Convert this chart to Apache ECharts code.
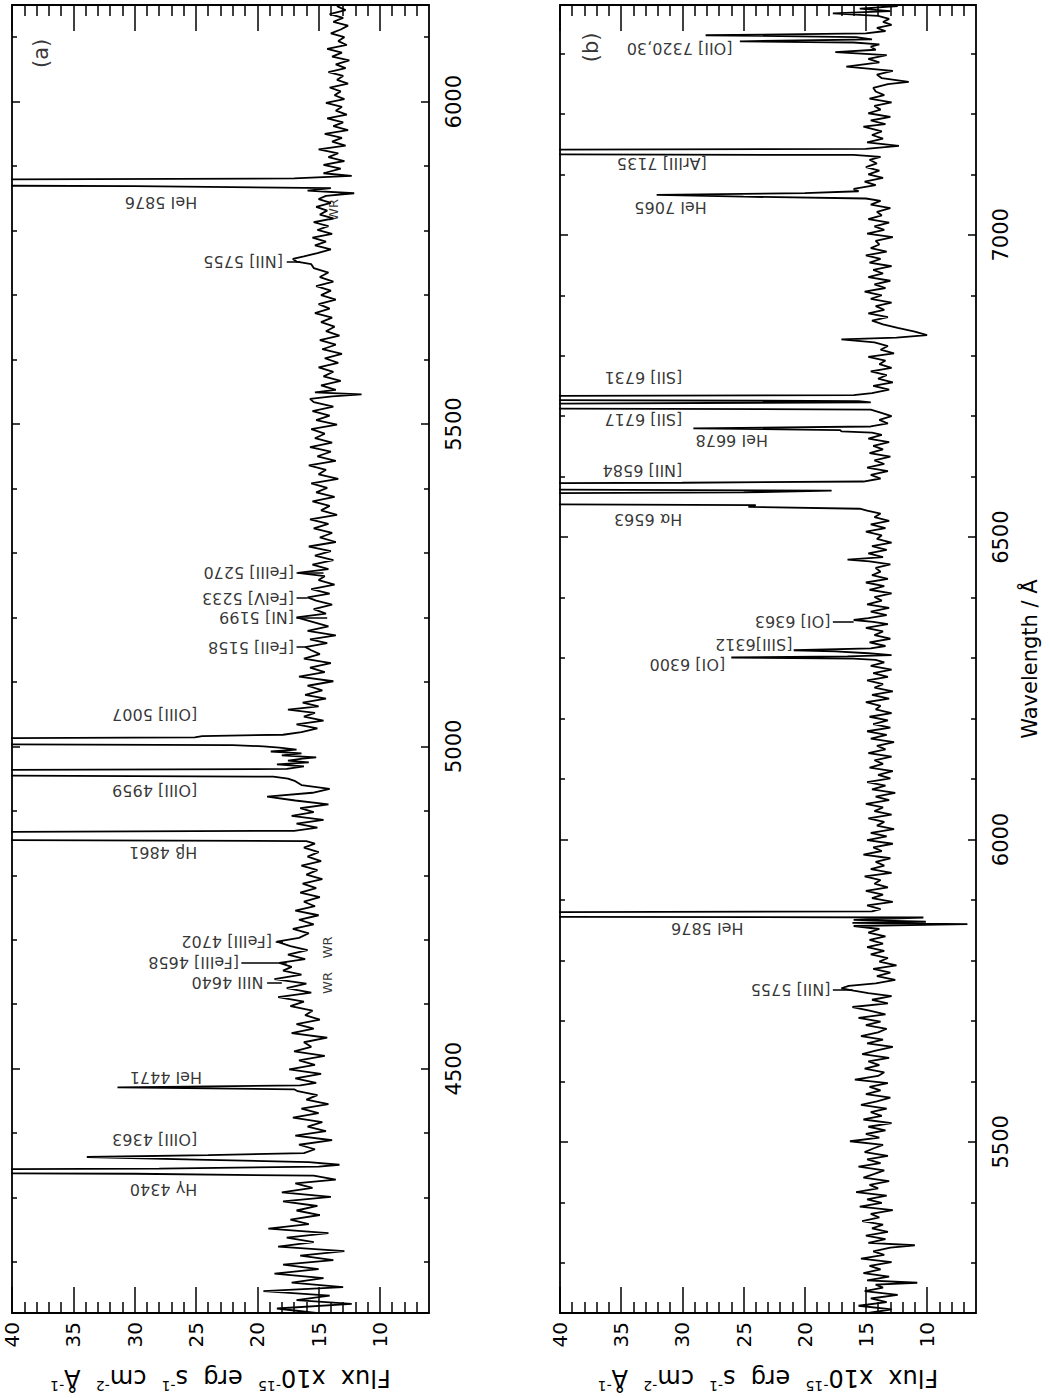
<!DOCTYPE html>
<html><head><meta charset="utf-8">
<script src="https://cdn.jsdelivr.net/npm/echarts@6.0.0/dist/echarts.min.js"></script>
<style>html,body{margin:0;padding:0;background:#fff}#c{width:1050px;height:1398px}</style>
</head><body><div id="c"></div>
<script>
// ---- tick values ----
const fluxMajor = [10, 15, 20, 25, 30, 35, 40];
const fluxMinor = [7, 8, 9, 11, 12, 13, 14, 16, 17, 18, 19, 21, 22, 23, 24, 26, 27, 28, 29, 31, 32, 33, 34, 36, 37, 38, 39];
const waveMajorA = [4500, 5000, 5500, 6000];
const waveMinorA = [4200, 4300, 4400, 4600, 4700, 4800, 4900, 5100, 5200, 5300, 5400, 5600, 5700, 5800, 5900, 6100];
const waveMajorB = [5500, 6000, 6500, 7000];
const waveMinorB = [5300, 5400, 5600, 5700, 5800, 5900, 6100, 6200, 6300, 6400, 6600, 6700, 6800, 6900, 7100, 7200, 7300];
const rangeA = [4121, 6150];
const rangeB = [5217, 7380];
const fluxRange = [6, 40];

// ---- spectrum (a): [wavelength, flux] ----
const spectrumA = [
[4121,15.2],[4128,18.4],[4135,12.3],[4141,16.8],[4148,14.1],[4155,19.5],[4161,13.0],[4168,17.2],[4175,14.6],[4182,18.6],
[4189,15.0],[4196,17.9],[4203,13.8],[4210,16.5],[4217,12.9],[4224,18.3],[4231,15.4],[4238,17.6],[4245,14.2],[4252,19.1],
[4259,15.8],[4266,17.3],[4273,14.9],[4280,16.8],[4287,15.1],[4294,17.9],[4301,14.0],[4308,18.0],[4315,15.5],[4322,16.9],
[4328,13.6],[4334,15.4],[4337,30],[4339,75],[4342,75],[4345,28],[4348,15.0],[4351,13.3],[4355,15.8],[4359,25.0],
[4363,33.9],[4366,24],[4369,16.2],[4375,15.3],[4382,16.6],[4389,13.9],[4396,16.9],[4403,14.4],[4410,15.9],[4417,14.7],
[4424,17.1],[4431,15.0],[4438,16.4],[4445,14.2],[4452,16.0],[4459,15.1],[4465,16.7],[4468,17.0],[4471,31.4],[4474,16.5],
[4478,15.2],[4485,16.9],[4492,14.8],[4499,17.4],[4506,15.3],[4513,16.6],[4520,14.5],[4527,17.0],[4534,15.6],[4541,16.2],
[4548,14.3],[4555,17.2],[4562,15.4],[4569,16.8],[4576,14.9],[4583,16.1],[4590,15.5],[4597,17.3],[4604,16.2],[4611,18.3],
[4618,15.6],[4625,17.6],[4632,16.0],[4639,18.6],[4646,16.4],[4652,17.9],[4658,17.2],[4664,18.2],[4670,16.1],[4677,17.5],
[4684,15.9],[4690,17.3],[4697,18.4],[4703,16.6],[4710,15.8],[4717,17.1],[4724,15.4],[4731,16.6],[4738,15.0],[4745,16.9],
[4752,15.3],[4759,16.2],[4766,14.9],[4773,16.5],[4780,15.2],[4787,16.3],[4794,14.7],[4801,16.0],[4808,15.1],[4815,16.4],
[4822,14.8],[4829,15.9],[4836,15.0],[4843,16.2],[4849,15.3],[4853,16.0],[4856,60],[4859,130],[4863,130],[4866,60],
[4869,17.0],[4874,15.1],[4880,16.8],[4886,14.6],[4892,17.2],[4898,15.4],[4904,16.5],[4910,14.2],[4916,16.9],[4922,19.2],
[4928,15.5],[4934,14.1],[4940,16.4],[4946,16.9],[4950,17.5],[4953,18.7],[4956,60],[4959,100],[4962,60],[4965,17.6],
[4969,16.2],[4972,18.4],[4975,15.8],[4978,17.5],[4981,16.3],[4983,15.2],[4986,18.0],[4989,16.4],[4992,18.9],[4995,16.8],
[4998,18.2],[5000,19.5],[5002,22],[5004,60],[5007,200],[5011,60],[5014,25.1],[5016,24.5],[5018,17.9],[5022,16.4],
[5028,15.1],[5034,16.8],[5040,14.6],[5046,16.2],[5052,15.3],[5057,17.5],[5062,15.0],[5068,16.3],[5074,14.4],[5080,16.1],
[5087,14.7],[5094,15.9],[5101,13.8],[5108,16.6],[5115,14.5],[5122,15.7],[5129,14.0],[5136,16.2],[5143,14.9],[5149,15.6],
[5154,16.1],[5160,14.3],[5166,15.7],[5172,13.6],[5179,15.9],[5186,14.2],[5193,15.5],[5200,16.8],[5206,14.4],[5213,15.4],
[5220,13.9],[5226,15.2],[5231,15.9],[5237,14.1],[5244,15.6],[5251,13.7],[5258,15.0],[5264,14.5],[5269,16.7],[5275,14.2],
[5282,15.5],[5289,13.8],[5296,15.3],[5303,14.0],[5310,15.8],[5317,13.6],[5324,14.9],[5331,13.9],[5338,15.4],[5345,14.2],
[5352,15.7],[5359,13.5],[5366,14.8],[5373,14.1],[5380,15.5],[5387,13.7],[5394,15.2],[5401,14.3],[5408,15.6],[5415,13.4],
[5422,15.0],[5429,14.4],[5436,15.8],[5443,13.6],[5450,15.1],[5457,14.0],[5464,15.7],[5471,13.9],[5478,15.3],[5485,14.5],
[5492,15.6],[5499,13.5],[5506,15.2],[5513,14.1],[5520,15.5],[5527,13.8],[5534,15.4],[5539,15.7],[5543,13.9],[5546,11.5],
[5549,15.3],[5553,13.6],[5560,14.8],[5567,13.2],[5574,14.6],[5581,13.8],[5588,15.0],[5595,13.4],[5602,14.5],[5609,13.1],
[5616,14.7],[5623,13.6],[5630,14.9],[5637,13.3],[5644,14.4],[5651,13.7],[5658,14.8],[5665,13.9],[5672,15.3],[5679,14.1],
[5686,15.0],[5693,13.6],[5700,14.8],[5707,14.0],[5714,15.2],[5721,13.8],[5728,14.9],[5735,14.2],[5742,15.4],[5748,15.6],
[5752,16.8],[5756,17.1],[5760,16.2],[5765,15.1],[5771,14.0],[5777,15.3],[5783,14.4],[5789,15.5],[5795,13.9],[5801,15.1],
[5807,14.2],[5813,15.4],[5819,13.8],[5825,14.9],[5831,14.3],[5837,15.2],[5843,14.0],[5849,15.0],[5854,14.4],[5858,12.1],
[5862,15.9],[5866,14.0],[5869,30],[5872,80],[5876,130],[5879,50],[5881,17.0],[5885,12.3],[5889,14.6],[5896,13.2],
[5902,14.6],[5908,12.9],[5914,14.2],[5920,13.4],[5926,15.0],[5932,12.8],[5938,13.9],[5944,13.1],[5950,14.5],[5956,12.6],
[5962,13.8],[5968,13.0],[5974,14.3],[5980,12.7],[5986,13.6],[5992,13.1],[5998,14.4],[6004,12.9],[6010,13.7],[6016,13.2],
[6022,14.1],[6028,12.6],[6034,13.5],[6040,13.0],[6046,14.2],[6052,12.8],[6058,13.6],[6064,12.5],[6070,13.9],[6076,13.1],
[6082,14.3],[6088,12.7],[6094,13.4],[6100,12.9],[6106,14.0],[6112,13.2],[6118,12.6],[6124,13.8],[6130,13.0],[6136,14.1],
[6142,12.8],[6148,13.5],[6150,13.2]
];

// ---- spectrum (b): [wavelength, flux] ----
const spectrumB = [
[5217,14.8],[5223,12.9],[5229,15.6],[5235,13.3],[5241,14.6],[5247,12.4],[5253,15.1],[5259,13.6],[5264,14.2],[5267,10.8],
[5271,14.9],[5277,13.1],[5283,15.2],[5289,13.8],[5295,14.7],[5301,12.9],[5307,15.4],[5313,13.5],[5319,14.4],[5325,13.0],
[5329,11.0],[5333,14.8],[5339,13.4],[5345,15.0],[5351,13.2],[5357,14.5],[5363,13.6],[5369,15.3],[5375,13.9],[5381,14.6],
[5387,12.8],[5393,15.5],[5399,13.7],[5405,14.9],[5411,13.3],[5417,15.8],[5423,14.0],[5429,14.7],[5435,13.1],[5441,15.2],
[5447,14.3],[5453,13.5],[5459,15.6],[5465,13.8],[5471,14.9],[5477,13.2],[5483,15.1],[5489,14.4],[5495,13.6],[5501,16.3],
[5507,13.9],[5513,15.0],[5519,13.4],[5525,14.8],[5531,12.9],[5537,15.2],[5543,13.7],[5549,14.6],[5555,13.3],[5561,15.4],
[5567,14.1],[5573,13.0],[5579,15.0],[5585,13.8],[5591,14.7],[5597,13.2],[5603,15.9],[5609,14.0],[5615,13.5],[5621,15.1],
[5627,13.9],[5633,14.8],[5639,13.1],[5645,15.3],[5651,14.2],[5657,12.8],[5663,14.9],[5669,13.6],[5675,15.4],[5681,14.0],
[5687,13.3],[5693,15.0],[5699,13.8],[5705,15.6],[5711,13.4],[5717,14.7],[5723,16.1],[5729,13.2],[5735,14.5],[5741,12.9],
[5746,14.8],[5750,16.0],[5754,17.0],[5758,16.4],[5762,14.2],[5768,12.6],[5774,14.1],[5780,13.0],[5786,14.4],[5792,12.5],
[5798,13.9],[5804,13.2],[5810,14.6],[5816,13.5],[5822,14.9],[5828,13.6],[5834,14.7],[5840,13.4],[5846,14.8],[5852,13.9],
[5857,16.0],[5860,6.7],[5862,16.1],[5864,10.1],[5867,16.0],[5871,10.3],[5873,60],[5876,130],[5879,60],[5881,14.5],
[5885,13.8],[5891,14.9],[5897,12.8],[5903,14.5],[5909,13.6],[5915,15.0],[5921,13.2],[5927,14.3],[5933,13.8],[5939,15.1],
[5945,12.9],[5951,14.6],[5957,13.5],[5963,14.2],[5969,13.0],[5975,15.2],[5981,13.7],[5987,14.4],[5993,12.8],[5999,14.9],
[6005,13.3],[6011,14.6],[6017,12.7],[6023,14.1],[6029,13.5],[6035,14.8],[6041,12.9],[6047,14.3],[6053,13.6],[6059,15.0],
[6065,13.1],[6071,14.2],[6077,12.6],[6083,14.5],[6089,13.4],[6095,14.9],[6101,13.0],[6107,14.0],[6113,12.8],[6119,14.7],
[6125,13.6],[6131,14.3],[6137,12.9],[6143,14.8],[6149,13.4],[6155,14.1],[6161,12.7],[6167,14.6],[6173,13.3],[6179,14.9],
[6185,13.0],[6191,14.4],[6197,13.2],[6203,14.7],[6209,12.9],[6215,14.2],[6221,13.8],[6227,15.0],[6233,13.1],[6239,14.5],
[6245,12.8],[6251,14.3],[6257,13.6],[6263,14.9],[6269,13.2],[6275,14.4],[6281,12.9],[6287,14.6],[6293,13.5],[6297,14.2],
[6299,16.0],[6301,26.0],[6303,16.5],[6305,12.9],[6308,14.8],[6311,17.5],[6313,20.9],[6316,14.6],[6320,13.4],[6326,14.7],
[6332,13.0],[6338,14.3],[6344,13.6],[6350,15.0],[6356,13.2],[6360,14.4],[6363,16.0],[6366,14.8],[6371,13.3],[6377,14.6],
[6383,13.1],[6389,14.9],[6395,13.7],[6401,14.3],[6407,12.9],[6413,14.7],[6419,13.5],[6425,15.0],[6431,13.2],[6437,14.5],
[6443,13.8],[6449,14.2],[6455,13.0],[6460,14.7],[6463,16.5],[6467,13.6],[6473,14.8],[6479,13.3],[6485,14.5],[6491,12.9],
[6497,14.1],[6503,13.7],[6509,15.0],[6515,13.4],[6521,14.6],[6527,13.1],[6533,14.3],[6539,13.8],[6544,14.9],[6547,15.5],
[6550,24.6],[6553,24.0],[6556,70],[6560,150],[6566,150],[6570,70],[6574,25],[6577,17.8],[6580,60],[6583,110],
[6587,80],[6590,30],[6592,15.2],[6597,13.8],[6603,14.6],[6609,13.2],[6615,14.9],[6621,13.5],[6627,14.3],[6633,13.0],
[6639,14.7],[6645,13.6],[6651,14.4],[6657,13.1],[6663,14.8],[6669,13.7],[6673,14.5],[6675,17.0],[6677,17.1],[6680,29.1],
[6683,14.6],[6688,13.2],[6694,13.9],[6700,12.9],[6706,13.8],[6711,14.6],[6714,60],[6717,90],[6720,50],[6723,14.6],
[6725,15.6],[6728,60],[6730,110],[6733,50],[6735,16.0],[6738,14.5],[6744,13.1],[6750,14.4],[6756,12.8],[6762,14.0],
[6768,13.3],[6774,14.6],[6780,12.9],[6786,13.9],[6792,13.4],[6798,14.8],[6804,12.7],[6810,13.8],[6816,13.2],[6822,14.3],
[6827,17.0],[6830,12.5],[6834,10.0],[6840,11.0],[6846,12.4],[6852,13.6],[6858,14.5],[6864,13.2],[6870,14.8],[6876,13.5],
[6882,14.2],[6888,12.9],[6894,14.6],[6900,13.7],[6906,15.1],[6912,13.4],[6918,14.3],[6924,13.0],[6930,14.8],[6936,13.6],
[6942,14.4],[6948,12.9],[6954,14.7],[6960,13.8],[6966,15.0],[6972,13.3],[6978,14.6],[6984,13.9],[6990,14.2],[6996,12.8],
[7002,14.9],[7008,13.5],[7014,14.3],[7020,13.1],[7026,14.8],[7032,13.7],[7038,14.1],[7044,13.0],[7050,14.6],[7056,13.8],
[7060,15.0],[7063,25.0],[7066,32.1],[7069,20.0],[7072,15.6],[7076,16.0],[7082,14.2],[7088,15.1],[7094,13.6],[7100,14.8],
[7106,13.9],[7112,15.0],[7118,14.1],[7124,14.7],[7129,13.8],[7132,16],[7134,70],[7137,120],[7140,60],[7142,15.0],
[7147,12.3],[7153,14.9],[7159,13.6],[7165,14.5],[7171,13.7],[7179,15.2],[7183,13.4],[7189,14.6],[7195,13.0],[7201,14.8],
[7207,13.8],[7213,14.3],[7219,12.9],[7225,14.7],[7231,13.5],[7237,14.2],[7243,14.4],[7249,13.2],[7253,11.5],[7259,13.7],
[7265,14.1],[7271,12.8],[7278,16.6],[7285,13.9],[7291,14.8],[7297,13.3],[7302,17.5],[7306,14.2],[7311,14.6],[7315,13.9],
[7318,16.0],[7320,25.3],[7323,14.5],[7327,15.8],[7330,28.1],[7333,15.0],[7337,13.4],[7342,14.1],[7347,12.9],[7352,13.6],
[7357,13.1],[7362,14.0],[7366,17.7],[7370,13.0],[7374,15.5],[7378,12.4],[7380,14.0]
];

// ---- line identifications: [text, wavelength, flux at text start] ----
const annotA = [
 ['HeI 5876', 5843, 24.9], ['[NII] 5755', 5752, 17.9], ['[FeIII] 5270', 5269, 17.0],
 ['[FeIV] 5233', 5230, 17.0], ['[NI] 5199', 5200, 17.0], ['[FeII] 5158', 5154, 17.0],
 ['[OIII] 5007', 5049, 24.9], ['[OIII] 4959', 4932, 24.9], ['H\u03B2 4861', 4835, 24.9],
 ['[FeIII] 4702', 4697, 18.8], ['[FeIII] 4658', 4665, 21.5], ['NIII 4640', 4633, 19.5],
 ['HeI 4471', 4486, 24.5], ['[OIII] 4363', 4390, 24.9], ['H\u03B3 4340', 4312, 24.9]
];
const leadersA = [[5752, 17.6, 16.5], [5269, 16.8, 14.6], [5230, 16.8, 15.9], [5200, 16.8, 14.3],
 [5154, 16.8, 16.1], [4697, 18.5, 17.9], [4665, 21.3, 17.6], [4633, 19.2, 18.0]];
const vertA = [['(a)', 6075, 37.6, 21], ['WR', 5832, 13.8, 13], ['WR', 4688, 14.3, 13], ['WR', 4633, 14.3, 13]];

const annotB = [
 ['[OII] 7320,30', 7308, 25.9], ['[ArIII] 7135', 7118, 28.0], ['HeI 7065', 7045, 28.0],
 ['[SII] 6731', 6764, 30.0], ['[SII] 6717', 6695, 30.0], ['HeI 6678', 6660, 23.0],
 ['[NII] 6584', 6611, 30.0], ['H\u03B1 6563', 6529, 30.0], ['[OI] 6363', 6360, 17.9],
 ['[SIII]6312', 6323, 21.0], ['[OI] 6300', 6290, 26.5], ['HeI 5876', 5853, 25.0],
 ['[NII] 5755', 5752, 17.9]
];
const leadersB = [[6360, 17.7, 16.0], [5752, 17.7, 16.1]];
const vertB = [['(b)', 7310, 37.5, 21]];

const FONT = 'DejaVu Sans';
const fluxTitle = '{t|Flux  x10}{s|-15}{t|  erg  s}{s|-1}{t|  cm}{s|-2}{t|  \u00C5}{s|-1}';

function fluxAxes(gi) {
  const base = { gridIndex: gi, type: 'value', min: fluxRange[0], max: fluxRange[1], inverse: true,
    axisLine: { show: false }, splitLine: { show: false } };
  const tick = (vals, len) => ({ show: true, inside: true, length: len, customValues: vals,
    lineStyle: { color: '#000', width: 1.5 } });
  return [
    Object.assign({}, base, { position: 'bottom', axisTick: tick(fluxMajor, 26),
      axisLabel: { show: true, customValues: fluxMajor, formatter: v => String(v), rotate: 90, margin: 9, color: '#000', fontSize: 20, fontFamily: FONT },
      name: fluxTitle, nameLocation: 'middle', nameGap: 50, nameRotate: 180,
      nameTextStyle: { color: '#000', fontFamily: FONT,
        rich: { t: { fontSize: 24, lineHeight: 30, fontFamily: FONT, color: '#000' },
                s: { fontSize: 14, lineHeight: 14, verticalAlign: 'top', fontFamily: FONT, color: '#000' } } } }),
    Object.assign({}, base, { position: 'bottom', axisTick: tick(fluxMinor, 11), axisLabel: { show: false } }),
    Object.assign({}, base, { position: 'top', axisTick: tick(fluxMajor, 26), axisLabel: { show: false } }),
    Object.assign({}, base, { position: 'top', axisTick: tick(fluxMinor, 11), axisLabel: { show: false } })
  ];
}
function waveAxes(gi, range, major, minor, withName) {
  const base = { gridIndex: gi, type: 'value', min: range[0], max: range[1],
    axisLine: { show: false }, splitLine: { show: false } };
  const tick = (vals, len) => ({ show: true, inside: true, length: len, customValues: vals,
    lineStyle: { color: '#000', width: 1.5 } });
  const main = Object.assign({}, base, { position: 'right', axisTick: tick(major, 8),
    axisLabel: { show: true, customValues: major, formatter: v => String(v), rotate: 90, margin: 14, color: '#000', fontSize: 21, fontFamily: FONT } });
  if (withName) {
    Object.assign(main, { name: 'Wavelength / \u00C5', nameLocation: 'middle', nameGap: 43, nameRotate: 90,
      nameTextStyle: { color: '#000', fontSize: 21, fontFamily: FONT } });
  }
  return [
    main,
    Object.assign({}, base, { position: 'right', axisTick: tick(minor, 5), axisLabel: { show: false } }),
    Object.assign({}, base, { position: 'left', axisTick: tick(major, 8), axisLabel: { show: false } }),
    Object.assign({}, base, { position: 'left', axisTick: tick(minor, 5), axisLabel: { show: false } })
  ];
}

function panelSeries(spec, annot, leaders, vert, xi, yi) {
  return [
    { type: 'line', xAxisIndex: xi, yAxisIndex: yi, data: spec.map(p => [p[1], p[0]]),
      showSymbol: false, symbol: 'none', clip: true, silent: true,
      lineStyle: { color: '#000', width: 1.8 },
      markLine: { silent: true, symbol: ['none', 'none'], label: { show: false }, animation: false,
        lineStyle: { color: '#000', width: 1.5, type: 'solid' },
        data: leaders.map(l => [{ coord: [l[1], l[0]] }, { coord: [l[2], l[0]] }]) } },
    { type: 'scatter', xAxisIndex: xi, yAxisIndex: yi, silent: true, symbolSize: 1,
      itemStyle: { color: 'rgba(0,0,0,0)' },
      data: annot.map(a => ({ name: a[0], value: [a[2], a[1]] })),
      label: { show: true, position: 'inside', formatter: p => p.name, rotate: 180, align: 'left',
        verticalAlign: 'middle', color: '#000', fontSize: 16, fontFamily: FONT } },
    { type: 'scatter', xAxisIndex: xi, yAxisIndex: yi, silent: true, symbolSize: 1,
      itemStyle: { color: 'rgba(0,0,0,0)' },
      data: vert.map(a => ({ name: a[0], value: [a[2], a[1]], label: { fontSize: a[3] } })),
      label: { show: true, position: 'inside', formatter: p => p.name, rotate: 90, align: 'center',
        verticalAlign: 'middle', color: '#000', fontFamily: FONT } }
  ];
}

const chart = echarts.init(document.getElementById('c'), null, { renderer: 'svg' });
chart.setOption({
  animation: false,
  backgroundColor: '#fff',
  grid: [
    { left: 12, top: 5, width: 417, height: 1308, show: true, borderColor: '#000', borderWidth: 1.8, backgroundColor: 'transparent' },
    { left: 560, top: 5, width: 416, height: 1308, show: true, borderColor: '#000', borderWidth: 1.8, backgroundColor: 'transparent' }
  ],
  xAxis: [].concat(fluxAxes(0), fluxAxes(1)),
  yAxis: [].concat(waveAxes(0, rangeA, waveMajorA, waveMinorA, false), waveAxes(1, rangeB, waveMajorB, waveMinorB, true)),
  series: [].concat(
    panelSeries(spectrumA, annotA, leadersA, vertA, 0, 0),
    panelSeries(spectrumB, annotB, leadersB, vertB, 4, 4)
  )
});
</script>
</body></html>
